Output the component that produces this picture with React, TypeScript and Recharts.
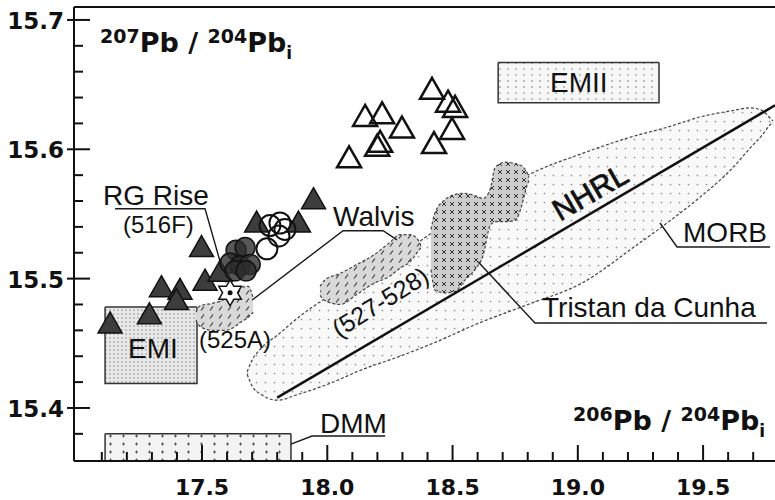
import React from 'react';
import { ComposedChart, Area, Scatter, XAxis, YAxis, ReferenceLine } from 'recharts';

// axes
const X_DOMAIN = [16.989, 19.787];
const Y_DOMAIN = [15.359, 15.71];
const X_TICKS = [17.1, 17.2, 17.3, 17.4, 17.5, 17.6, 17.7, 17.8, 17.9, 18.0, 18.1, 18.2, 18.3, 18.4, 18.5, 18.6, 18.7, 18.8, 18.9, 19.0, 19.1, 19.2, 19.3, 19.4, 19.5, 19.6, 19.7];
const X_MAJOR = [17.5, 18.0, 18.5, 19.0, 19.5];
const Y_TICKS = [15.38, 15.4, 15.42, 15.44, 15.46, 15.48, 15.5, 15.52, 15.54, 15.56, 15.58, 15.6, 15.62, 15.64, 15.66, 15.68, 15.7];
const Y_MAJOR = [15.4, 15.5, 15.6, 15.7];

// samples [206Pb/204Pb, 207Pb/204Pb]
const FILLED_TRIANGLES = [
  [17.133, 15.465], [17.29, 15.472], [17.338, 15.493], [17.412, 15.491], [17.398, 15.483],
  [17.512, 15.498], [17.498, 15.524], [17.718, 15.543], [17.885, 15.543], [17.945, 15.561], [17.572, 15.505],
];
const OPEN_TRIANGLES = [
  [18.087, 15.593], [18.151, 15.625], [18.219, 15.627], [18.298, 15.616], [18.199, 15.602], [18.211, 15.605],
  [18.418, 15.646], [18.482, 15.636], [18.51, 15.632], [18.498, 15.615], [18.426, 15.604],
];
const FILLED_CIRCLES = [
  [17.636, 15.522], [17.672, 15.524], [17.612, 15.512], [17.652, 15.51], [17.692, 15.511], [17.632, 15.506], [17.676, 15.506],
];
const OPEN_CIRCLES = [[17.771, 15.541], [17.811, 15.543], [17.807, 15.533], [17.759, 15.523], [17.831, 15.538]];
const STAR_516F = [[17.612, 15.489]];

// fields [x, low, high]
const MORB = [
  [17.68, 15.426, 15.428], [17.7, 15.417, 15.437], [17.74, 15.41, 15.447], [17.799, 15.406, 15.456],
  [17.891, 15.411, 15.471], [18.011, 15.419, 15.487], [18.131, 15.429, 15.5], [18.29, 15.44, 15.518],
  [18.422, 15.45, 15.536], [18.61, 15.466, 15.557], [18.801, 15.48, 15.58], [19.021, 15.497, 15.597],
  [19.221, 15.524, 15.61], [19.356, 15.543, 15.617], [19.488, 15.563, 15.625], [19.62, 15.586, 15.63],
  [19.688, 15.601, 15.632], [19.736, 15.611, 15.63], [19.768, 15.619, 15.624], [19.779, 15.621, 15.622],
];
const WALVIS_525A = [
  [17.476, 15.468, 15.474], [17.492, 15.463, 15.479], [17.544, 15.46, 15.481], [17.592, 15.46, 15.484],
  [17.624, 15.462, 15.487], [17.652, 15.466, 15.493], [17.684, 15.47, 15.494], [17.704, 15.474, 15.485],
];
const WALVIS_527 = [
  [17.971, 15.487, 15.494], [17.991, 15.483, 15.499], [18.051, 15.48, 15.504], [18.119, 15.488, 15.511],
  [18.183, 15.496, 15.518], [18.25, 15.502, 15.528], [18.29, 15.508, 15.534], [18.33, 15.513, 15.534],
  [18.362, 15.521, 15.53], [18.374, 15.524, 15.525],
];
const TRISTAN = [
  [18.414, 15.507, 15.538], [18.43, 15.491, 15.551], [18.47, 15.489, 15.561], [18.51, 15.49, 15.565],
  [18.55, 15.499, 15.566], [18.59, 15.507, 15.564], [18.622, 15.518, 15.562], [18.65, 15.541, 15.569],
  [18.67, 15.544, 15.586], [18.71, 15.544, 15.59], [18.75, 15.545, 15.589], [18.777, 15.557, 15.587],
  [18.797, 15.572, 15.582], [18.805, 15.576, 15.578],
];
// boxes [x1, x2, y0, y1]
const EMI = [17.113, 17.48, 15.419, 15.478];
const EMII = [18.682, 19.324, 15.636, 15.667];
const DMM = [17.113, 17.855, 15.359, 15.38];

const NHRL = [[17.8, 15.408], [19.787, 15.634]];

// leader lines
const RG_LEADER = [[17.153, 15.554], [17.512, 15.554], [17.596, 15.497]];
const WALVIS_LEADER = [[17.7, 15.4835], [18.063, 15.537], [18.223, 15.537], [18.278, 15.53]];
const MORB_LEADER = [[19.328, 15.543], [19.396, 15.5245], [19.767, 15.5245]];
const TRISTAN_LEADER = [[18.602, 15.513], [18.829, 15.4657], [19.755, 15.4657]];
const DMM_LEADER = [[17.855, 15.372], [17.939, 15.3783], [18.231, 15.3783]];

const LABELS = [
  { x: 17.105, y: 15.557, text: 'RG Rise', kind: 'big' },
  { x: 17.185, y: 15.535, text: '(516F)', kind: 'small' },
  { x: 18.023, y: 15.541, text: 'Walvis', kind: 'big' },
  { x: 17.488, y: 15.446, text: '(525A)', kind: 'small' },
  { x: 19.42, y: 15.528, text: 'MORB', kind: 'big' },
  { x: 18.857, y: 15.47, text: 'Tristan da Cunha', kind: 'big' },
  { x: 17.971, y: 15.381, text: 'DMM', kind: 'big' },
  { x: 17.205, y: 15.439, text: 'EMI', kind: 'big' },
  { x: 18.889, y: 15.644, text: 'EMII', kind: 'big' },
  { x: 19.049, y: 15.567, text: 'NHRL', kind: 'nhrl' },
  { x: 18.211, y: 15.482, text: '(527-528)', kind: 'rot' },
];
const AXIS_TITLES = [
  { x: 17.093, y: 15.675, a: '207', b: '204' },
  { x: 18.981, y: 15.383, a: '206', b: '204' },
];

const pts = (a: number[][]) => a.map(([x, y]) => ({ x, y }));
const range = (a: number[][]) => a.map(([x, lo, hi]) => ({ x, r: [lo, hi] }));
const box = ([x1, x2, y0, y1]: number[]) => [
  { x: x1, r: [y1, y1] }, { x: x1, r: [y0, y1] }, { x: x2, r: [y0, y1] }, { x: x2, r: [y1, y1] },
];

const near = (list: number[], v: number) => list.some((m) => Math.abs(m - v) < 1e-6);
const BOLD = 'DejaVu Sans';
const REG = 'Liberation Sans';

const YTick = ({ x, y, payload }: any) => {
  const major = near(Y_MAJOR, payload.value);
  return (
    <g>
      <line x1={major ? x - 7 : x} x2={major ? x + 16 : x + 9} y1={y} y2={y} stroke="#111" strokeWidth={2} />
      {major && (
        <text x={x - 10} y={y + 9} textAnchor="end" fontFamily={BOLD} fontWeight="bold" fontSize={23} fill="#111">
          {payload.value.toFixed(1)}
        </text>
      )}
    </g>
  );
};

const XTick = ({ x, y, payload }: any) => {
  const major = near(X_MAJOR, payload.value);
  return (
    <g>
      <line x1={x} x2={x} y1={y} y2={y - (major ? 16 : 9)} stroke="#111" strokeWidth={2} />
      {major && (
        <text x={x} y={y + 34} textAnchor="middle" fontFamily={BOLD} fontWeight="bold" fontSize={22} fill="#111">
          {payload.value.toFixed(1)}
        </text>
      )}
    </g>
  );
};

const triangle = (fill: string, sw: number) => (p: any) => (
  <polygon
    points={`${p.cx},${p.cy - 12} ${p.cx + 12},${p.cy + 9} ${p.cx - 12},${p.cy + 9}`}
    fill={fill}
    stroke="#111"
    strokeWidth={sw}
    strokeLinejoin="miter"
  />
);

const star = (p: any) => {
  const R = 13;
  const r = 7.5;
  const s = [];
  for (let i = 0; i < 12; i++) {
    const a = (-90 + i * 30) * (Math.PI / 180);
    const rad = i % 2 === 0 ? R : r;
    s.push(`${p.cx + rad * Math.cos(a)},${p.cy + rad * Math.sin(a)}`);
  }
  return (
    <g>
      <polygon points={s.join(' ')} fill="#fff" stroke="#111" strokeWidth={1.5} />
      <circle cx={p.cx} cy={p.cy} r={2.5} fill="#111" />
    </g>
  );
};

const label = (p: any) => {
  const d = p.payload;
  if (d.kind === 'nhrl' || d.kind === 'rot') {
    const ang = d.kind === 'nhrl' ? -30 : -32;
    return (
      <text
        x={p.cx}
        y={p.cy}
        textAnchor="middle"
        dominantBaseline="central"
        transform={`rotate(${ang}, ${p.cx}, ${p.cy})`}
        fontFamily={REG}
        fontSize={d.kind === 'nhrl' ? 30 : 25}
        fontWeight="normal"
        stroke={d.kind === 'nhrl' ? '#111' : 'none'}
        strokeWidth={0.8}
        fill="#111"
      >
        {d.text}
      </text>
    );
  }
  return (
    <text x={p.cx} y={p.cy} fontFamily={REG} fontSize={d.kind === 'small' ? 24 : 28} fill="#111">
      {d.text}
    </text>
  );
};

const title = (p: any) => {
  const d = p.payload;
  return (
    <text x={p.cx} y={p.cy} fontFamily={BOLD} fontWeight="bold" fill="#111">
      <tspan fontSize={19} dy={-9}>{d.a}</tspan>
      <tspan fontSize={27} dy={9}>{'Pb / '}</tspan>
      <tspan fontSize={19} dy={-9}>{d.b}</tspan>
      <tspan fontSize={27} dy={9}>Pb</tspan>
      <tspan fontSize={17} dy={7}>i</tspan>
    </text>
  );
};

const none = () => <g />;
const leader = { stroke: '#1a1a1a', strokeWidth: 1.4 };
const outline = { stroke: '#444', strokeWidth: 1.2, strokeDasharray: '3 2' };

export default function App() {
  return (
    <div style={{ position: 'absolute', left: 0, top: 0, width: 775, height: 500, background: '#fff' }}>
      <svg width={0} height={0} style={{ position: 'absolute' }}>
        <defs>
          <pattern id="pMorb" width={9} height={9} patternUnits="userSpaceOnUse">
            <rect width={9} height={9} fill="#f9f9f9" />
            <circle cx={4.5} cy={4.5} r={0.85} fill="#8c8c8c" />
          </pattern>
          <pattern id="pWalvis" width={9} height={8} patternUnits="userSpaceOnUse">
            <rect width={9} height={8} fill="#d9d9d9" />
            <line x1={3} y1={6.5} x2={6} y2={2.5} stroke="#333" strokeWidth={1.1} />
          </pattern>
          <pattern id="pTristan" width={8} height={8} patternUnits="userSpaceOnUse">
            <rect width={8} height={8} fill="#cdcdcd" />
            <path d="M2,2 L6,6 M6,2 L2,6" stroke="#333" strokeWidth={1} />
          </pattern>
          <pattern id="pEmi" width={4} height={4} patternUnits="userSpaceOnUse">
            <rect width={4} height={4} fill="#e8e8e8" />
            <circle cx={2} cy={2} r={0.7} fill="#777" />
          </pattern>
          <pattern id="pEmii" width={8} height={6} patternUnits="userSpaceOnUse">
            <rect width={8} height={6} fill="#f7f7f7" />
            <circle cx={4} cy={3} r={0.8} fill="#777" />
          </pattern>
          <pattern id="pDmm" width={13} height={8} patternUnits="userSpaceOnUse">
            <rect width={13} height={8} fill="#f3f3f3" />
            <path d="M5,4 L8,4 M6.5,2.5 L6.5,5.5" stroke="#555" strokeWidth={1} />
          </pattern>
        </defs>
      </svg>
      <ComposedChart width={775} height={500} margin={{ top: 7, right: 0, bottom: 0, left: 0 }}>
        <XAxis
          type="number"
          dataKey="x"
          domain={X_DOMAIN}
          allowDataOverflow
          ticks={X_TICKS}
          interval={0}
          height={39}
          tickSize={0}
          tickMargin={0}
          tickLine={false}
          tick={<XTick />}
          axisLine={{ stroke: '#111', strokeWidth: 2 }}
        />
        <YAxis
          type="number"
          dataKey="y"
          domain={Y_DOMAIN}
          allowDataOverflow
          ticks={Y_TICKS}
          interval={0}
          width={74}
          tickSize={0}
          tickMargin={0}
          tickLine={false}
          tick={<YTick />}
          axisLine={{ stroke: '#111', strokeWidth: 2 }}
        />
        <ReferenceLine y={15.71} stroke="#111" strokeWidth={2} />

        <Area data={range(MORB)} dataKey="r" type="monotone" fill="url(#pMorb)" fillOpacity={1} {...outline} isAnimationActive={false} />
        <Area data={box(EMI)} dataKey="r" type="linear" fill="url(#pEmi)" fillOpacity={1} stroke="#333" strokeWidth={1.5} isAnimationActive={false} />
        <Area data={box(EMII)} dataKey="r" type="linear" fill="url(#pEmii)" fillOpacity={1} stroke="#333" strokeWidth={1.5} isAnimationActive={false} />
        <Area data={box(DMM)} dataKey="r" type="linear" fill="url(#pDmm)" fillOpacity={1} stroke="#333" strokeWidth={1.5} isAnimationActive={false} />
        <Area data={range(WALVIS_525A)} dataKey="r" type="monotone" fill="url(#pWalvis)" fillOpacity={1} {...outline} isAnimationActive={false} />
        <Area data={range(WALVIS_527)} dataKey="r" type="monotone" fill="url(#pWalvis)" fillOpacity={1} {...outline} isAnimationActive={false} />
        <Area data={range(TRISTAN)} dataKey="r" type="monotone" fill="url(#pTristan)" fillOpacity={1} {...outline} isAnimationActive={false} />

        <Scatter data={pts(NHRL)} line={{ stroke: '#111', strokeWidth: 2.5 }} shape={none} isAnimationActive={false} />
        <Scatter data={pts(RG_LEADER)} line={leader} shape={none} isAnimationActive={false} />
        <Scatter data={pts(WALVIS_LEADER)} line={leader} shape={none} isAnimationActive={false} />
        <Scatter data={pts(MORB_LEADER)} line={leader} shape={none} isAnimationActive={false} />
        <Scatter data={pts(TRISTAN_LEADER)} line={leader} shape={none} isAnimationActive={false} />
        <Scatter data={pts(DMM_LEADER)} line={leader} shape={none} isAnimationActive={false} />

        <Scatter data={LABELS} shape={label} isAnimationActive={false} />
        <Scatter data={AXIS_TITLES} shape={title} isAnimationActive={false} />

        <Scatter data={pts(FILLED_TRIANGLES)} shape={triangle('#3d3d3d', 1.5)} isAnimationActive={false} />
        <Scatter data={pts(OPEN_TRIANGLES)} shape={triangle('none', 2.5)} isAnimationActive={false} />
        <Scatter
          data={pts(FILLED_CIRCLES)}
          shape={(p: any) => <circle cx={p.cx} cy={p.cy} r={10} fill="rgba(45,45,45,0.8)" stroke="#111" strokeWidth={1.5} />}
          isAnimationActive={false}
        />
        <Scatter
          data={pts(OPEN_CIRCLES)}
          shape={(p: any) => <circle cx={p.cx} cy={p.cy} r={10.5} fill="none" stroke="#111" strokeWidth={2} />}
          isAnimationActive={false}
        />
        <Scatter data={pts(STAR_516F)} shape={star} isAnimationActive={false} />
      </ComposedChart>
    </div>
  );
}
